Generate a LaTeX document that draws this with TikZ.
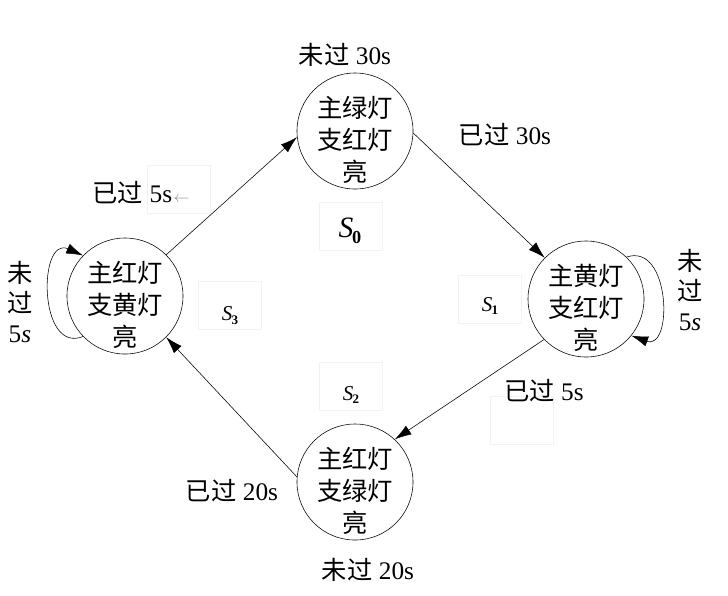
\documentclass[tikz,border=0pt]{standalone}
\usepackage{fontspec}
\setmainfont{Liberation Serif}
\newfontfamily\cjk{Noto Sans CJK SC}
\usetikzlibrary{arrows.meta}

\newcommand{\zh}[1]{{\cjk #1}}
\newcommand{\sname}[1]{\textit{S}\kern-0.04em\raisebox{-0.4ex}{\scalebox{0.62}{\bfseries #1}}}

\begin{document}
\begin{tikzpicture}[x=0.025cm, y=-0.025cm, >={Latex[length=0.42cm,width=0.26cm]}]
	\tikzset{
		state/.style = {circle, draw, minimum size=2.9cm, inner sep=0pt},
		inside/.style = {font=\cjk\fontsize{18}{23}\selectfont, align=center, yshift=-0.22cm},
		ghost/.style = {rectangle, draw=black!5, minimum width=1.58cm, minimum height=1.2cm},
		lbl/.style = {inner sep=0pt, font=\fontsize{18}{21}\selectfont},
		stack/.style = {lbl, align=center}
	}
	\useasboundingbox (0,0) rectangle (728,595);
	% states
	\node[state, label={[inside]center:主绿灯\\支红灯\\亮}] (t) at (355,131) {};
	\node[state, label={[inside]center:主黄灯\\支红灯\\亮}] (r) at (586,299) {};
	\node[state, label={[inside]center:主红灯\\支绿灯\\亮}] (b) at (355,482) {};
	\node[state, label={[inside]center:主红灯\\支黄灯\\亮}] (l) at (125,296) {};
	% faint boxes and state names
	\node[ghost] (g0) at (351,226) {};
	\node[ghost] (g1) at (490,299) {};
	\node[ghost] (g2) at (351,386) {};
	\node[ghost] (g3) at (230,305) {};
	\node[ghost] (g4) at (179,189) {};
	\node[ghost] (g5) at (522,420) {};
	\node[lbl, font=\fontsize{21}{23}\selectfont] (s0) at (350,231) {\sname{0}};
	\node[lbl, font=\fontsize{15}{17}\selectfont] (s1) at (490,306) {\sname{1}};
	\node[lbl, font=\fontsize{15}{17}\selectfont] (s2) at (351,395) {\sname{2}};
	\node[lbl, font=\fontsize{15}{17}\selectfont] (s3) at (230,316) {\sname{3}};
	% conditions
	\node[lbl] (c0) at (345,55) {\zh{未过} 30s};
	\node[lbl] (c1) at (505,135) {\zh{已过} 30s};
	\node[lbl] (c2) at (544,391) {\zh{已过} 5s};
	\node[lbl] (c3) at (232,491) {\zh{已过} 20s};
	\node[lbl] (c4) at (368,570) {\zh{未过} 20s};
	\node[lbl] (c5) at (141,193) {\zh{已过} 5s\kern1pt\textcolor{black!45}{\scalebox{0.65}{$\leftarrow$}}};
	\node[stack] (c6) at (20,302) {\zh{未}\\\zh{过}\\5\textit{s}};
	\node[stack] (c7) at (690,290) {\zh{未}\\\zh{过}\\5\textit{s}};
	% transitions
	\draw[->] (l.45) -- (t.186);
	\draw[->] (t.-2) -- (r.135);
	\draw[->] (r.224) -- (b.47);
	\draw[->] (b.175) -- (l.-45);
	\draw[->] (l.224) .. controls +(-45,18) and +(-45,-20) .. (l.136);
	\draw[->] (r.46) .. controls +(44,-15) and +(42,15) .. (r.-39);
\end{tikzpicture}
\end{document}
